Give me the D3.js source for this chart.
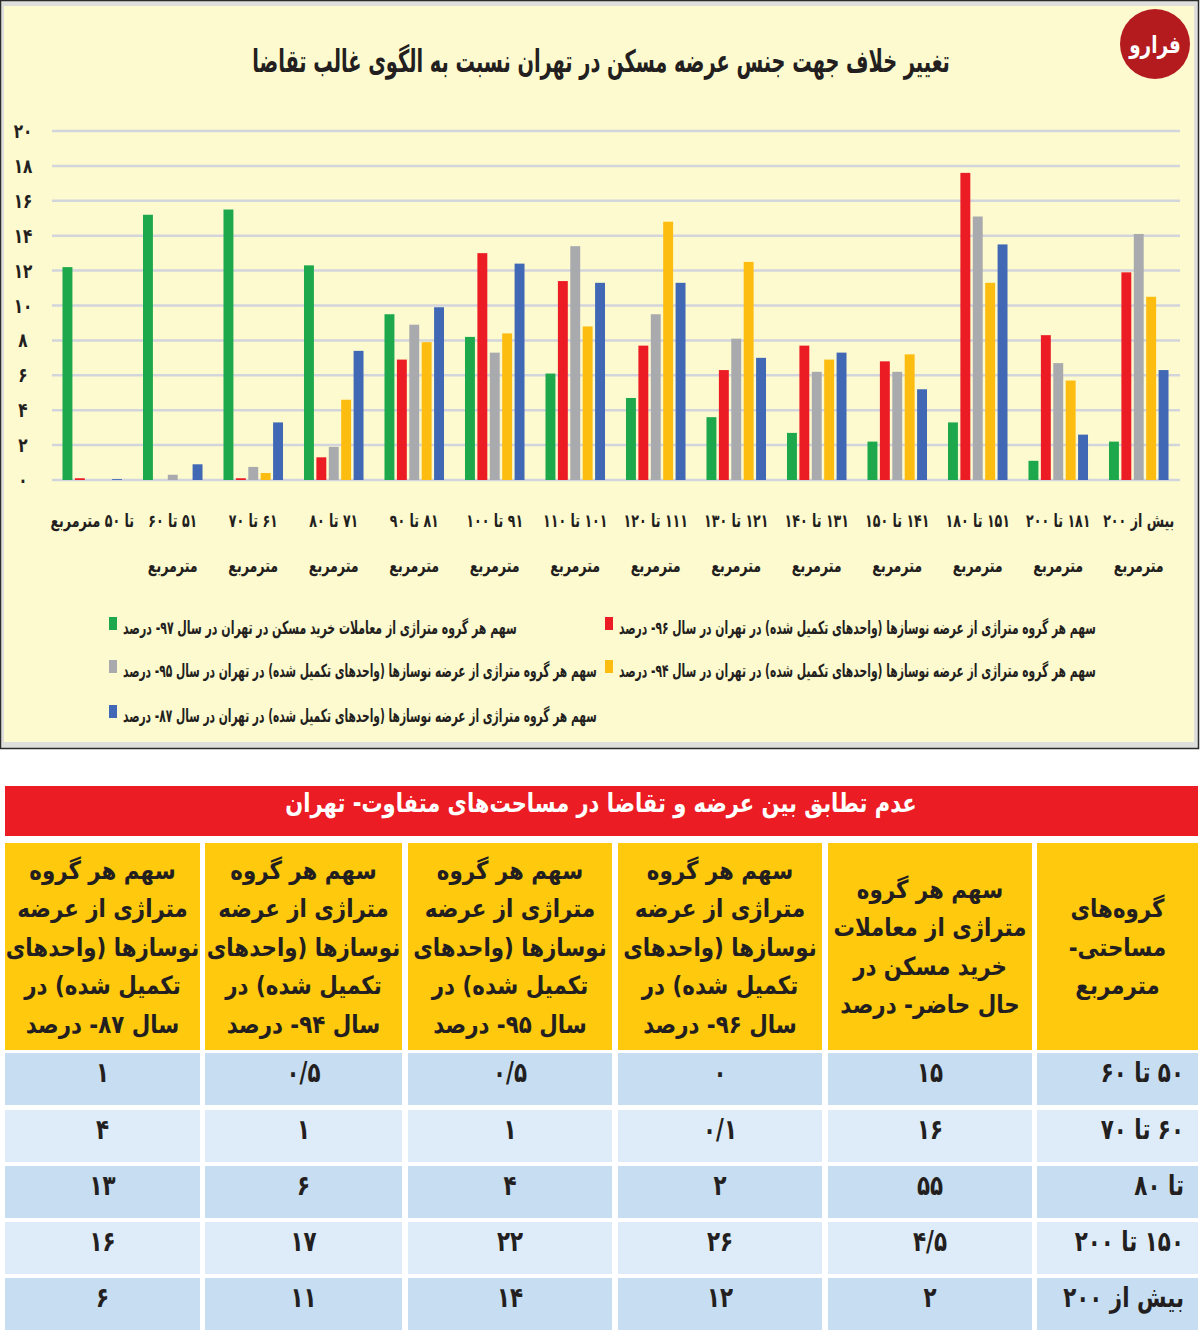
<!DOCTYPE html>
<html>
<head>
<meta charset="utf-8">
<script src="https://cdn.jsdelivr.net/npm/d3@7"></script>
<style>
  body { margin: 0; background: #fff; }
  svg text { font-family: "DejaVu Sans Condensed", "DejaVu Sans", sans-serif; font-weight: bold; }
</style>
</head>
<body>
<div class="canvas"></div>
<script>
/**
 * Data
 */
const title = "تغییر خلاف جهت جنس عرضه مسکن در تهران نسبت به الگوی غالب تقاضا"

// area groups, two label lines each
const categories = [
    ["تا ۵۰ مترمربع", ""],
    ["۵۱ تا ۶۰", "مترمربع"],
    ["۶۱ تا ۷۰", "مترمربع"],
    ["۷۱ تا ۸۰", "مترمربع"],
    ["۸۱ تا ۹۰", "مترمربع"],
    ["۹۱ تا ۱۰۰", "مترمربع"],
    ["۱۰۱ تا ۱۱۰", "مترمربع"],
    ["۱۱۱ تا ۱۲۰", "مترمربع"],
    ["۱۲۱ تا ۱۳۰", "مترمربع"],
    ["۱۳۱ تا ۱۴۰", "مترمربع"],
    ["۱۴۱ تا ۱۵۰", "مترمربع"],
    ["۱۵۱ تا ۱۸۰", "مترمربع"],
    ["۱۸۱ تا ۲۰۰", "مترمربع"],
    ["بیش از ۲۰۰", "مترمربع"]
]

const demand97 = [12.2, 15.2, 15.5, 12.3, 9.5, 8.2, 6.1, 4.7, 3.6, 2.7, 2.2, 3.3, 1.1, 2.2]
const supply96 = [0.1, 0, 0.1, 1.3, 6.9, 13.0, 11.4, 7.7, 6.3, 7.7, 6.8, 17.6, 8.3, 11.9]
const supply95 = [0, 0.3, 0.75, 1.9, 8.9, 7.3, 13.4, 9.5, 8.1, 6.2, 6.2, 15.1, 6.7, 14.1]
const supply94 = [0, 0, 0.4, 4.6, 7.9, 8.4, 8.8, 14.8, 12.5, 6.9, 7.2, 11.3, 5.7, 10.5]
const supply87 = [0.05, 0.9, 3.3, 7.4, 9.9, 12.4, 11.3, 11.3, 7.0, 7.3, 5.2, 13.5, 2.6, 6.3]

const yTicks = [0, 2, 4, 6, 8, 10, 12, 14, 16, 18, 20]

const seriesNames = [
    "سهم هر گروه متراژی از معاملات خرید مسکن در تهران در سال ۹۷- درصد",
    "سهم هر گروه متراژی از عرضه نوسازها (واحدهای تکمیل شده) در تهران در سال ۹۶- درصد",
    "سهم هر گروه متراژی از عرضه نوسازها (واحدهای تکمیل شده) در تهران در سال ۹۵- درصد",
    "سهم هر گروه متراژی از عرضه نوسازها (واحدهای تکمیل شده) در تهران در سال ۹۴- درصد",
    "سهم هر گروه متراژی از عرضه نوسازها (واحدهای تکمیل شده) در تهران در سال ۸۷- درصد"
]

// table
const tableTitle = "عدم تطابق بین عرضه و تقاضا در مساحت‌های متفاوت- تهران"
const tableHeaders = [
    ["گروه‌های", "مساحتی-", "مترمربع"],
    ["سهم هر گروه", "متراژی از معاملات", "خرید مسکن در", "حال حاضر- درصد"],
    ["سهم هر گروه", "متراژی از عرضه", "نوسازها (واحدهای", "تکمیل شده) در", "سال ۹۶- درصد"],
    ["سهم هر گروه", "متراژی از عرضه", "نوسازها (واحدهای", "تکمیل شده) در", "سال ۹۵- درصد"],
    ["سهم هر گروه", "متراژی از عرضه", "نوسازها (واحدهای", "تکمیل شده) در", "سال ۹۴- درصد"],
    ["سهم هر گروه", "متراژی از عرضه", "نوسازها (واحدهای", "تکمیل شده) در", "سال ۸۷- درصد"]
]
const tableRows = [
    ["۵۰ تا ۶۰", "۱۵", "۰", "۰/۵", "۰/۵", "۱"],
    ["۶۰ تا ۷۰", "۱۶", "۰/۱", "۱", "۱", "۴"],
    ["تا ۸۰", "۵۵", "۲", "۴", "۶", "۱۳"],
    ["۱۵۰ تا ۲۰۰", "۴/۵", "۲۶", "۲۲", "۱۷", "۱۶"],
    ["بیش از ۲۰۰", "۲", "۱۲", "۱۴", "۱۱", "۶"]
]

/**
 * Setup
 */
const fa = s => String(s).replace(/\d/g, d => "۰۱۲۳۴۵۶۷۸۹"[d])

const series = [
    { key: "d97", values: demand97, color: "#1DA84B" },
    { key: "s96", values: supply96, color: "#EC1C24" },
    { key: "s95", values: supply95, color: "#A9AAAE" },
    { key: "s94", values: supply94, color: "#FDBD10" },
    { key: "s87", values: supply87, color: "#4068B5" }
]
series.forEach((s, i) => s.name = seriesNames[i])

const svg = d3.select(".canvas")
    .append("svg")
    .attr("width", 1200)
    .attr("height", 1330)

// horizontal squeeze of a text (the reference font is narrow)
// done with a transform so the real box of the text stays right
const squeeze = (el, k) => {
    const tx = +el.getAttribute("x") || 0
    const ty = +el.getAttribute("y") || 0
    el.setAttribute("x", 0)
    el.setAttribute("y", 0)
    el.setAttribute("transform", `translate(${tx},${ty}) scale(${k},1)`)
}
const condense = (sel, k) => sel.each(function() { squeeze(this, k) })
const fit = (sel, w) => sel.each(function() {
    squeeze(this, w / this.getComputedTextLength())
})

/**
 * Chart panel
 */
svg.append("rect")
    .attr("x", 0.5).attr("y", 0.5)
    .attr("width", 1198).attr("height", 748)
    .attr("fill", "#DEDEDC")
    .attr("stroke", "#2b2b2b")
    .attr("stroke-width", 1.5)

svg.append("rect")
    .attr("x", 4).attr("y", 6)
    .attr("width", 1190).attr("height", 736)
    .attr("fill", "#FDFACF")

svg.append("text")
    .attr("x", 601).attr("y", 72)
    .attr("text-anchor", "middle")
    .attr("direction", "rtl")
    .attr("font-size", 31)
    .attr("fill", "#231F20")
    .text(title)
    .call(fit, 698)

// logo
const logo = svg.append("g").attr("transform", "translate(1155,44)")
logo.append("circle").attr("r", 35).attr("fill", "#B31B1F")
logo.append("text")
    .attr("y", 9)
    .attr("text-anchor", "middle")
    .attr("direction", "rtl")
    .attr("font-size", 24)
    .attr("fill", "#fff")
    .text("فرارو")
    .call(condense, 0.85)

/**
 * Scales
 */
const x0 = d3.scaleBand()
    .domain(d3.range(categories.length))
    .range([52, 1179])

const x1 = d3.scaleBand()
    .domain(series.map(s => s.key))
    .range([x0.bandwidth() / 2 - 31, x0.bandwidth() / 2 + 31])
    .paddingInner(0.2)
    .paddingOuter(0.1)

const y = d3.scaleLinear()
    .domain([0, 20])
    .range([480, 131])

// gridlines + y labels
svg.append("g")
    .selectAll("line")
    .data(yTicks)
    .enter().append("line")
        .attr("x1", 52).attr("x2", 1180)
        .attr("y1", d => y(d)).attr("y2", d => y(d))
        .attr("stroke", "#D3D5DC")
        .attr("stroke-width", 2.5)

svg.append("g")
    .selectAll("text")
    .data(yTicks)
    .enter().append("text")
        .attr("x", 23)
        .attr("y", d => y(d) + 7)
        .attr("text-anchor", "middle")
        .attr("font-size", 20)
        .attr("fill", "#231F20")
        .text(d => fa(d))
        .call(condense, 0.85)

// bars
const groups = svg.append("g")
    .selectAll("g")
    .data(categories.map((c, i) => i))
    .enter().append("g")
        .attr("transform", i => `translate(${x0(i)},0)`)

groups.selectAll("rect")
    .data(i => series.map(s => ({ key: s.key, color: s.color, value: s.values[i] })))
    .enter().append("rect")
        .attr("x", d => x1(d.key))
        .attr("width", x1.bandwidth())
        .attr("y", d => y(d.value))
        .attr("height", d => y(0) - y(d.value))
        .attr("fill", d => d.color)

// x labels
groups.each(function(i) {
    const g = d3.select(this)
    const cx = x0.bandwidth() / 2
    categories[i].forEach((line, k) => {
        if (!line) return
        g.append("text")
            .attr("x", cx)
            .attr("y", 527 + k * 45)
            .attr("text-anchor", "middle")
            .attr("direction", "rtl")
            .attr("font-size", 18)
            .attr("fill", "#231F20")
            .text(line)
            .call(condense, 0.78)
    })
})

/**
 * Legend
 */
const legendPos = [
    { x: 109, y: 628, w: 394 },
    { x: 605, y: 628, w: 477 },
    { x: 109, y: 671, w: 474 },
    { x: 605, y: 671, w: 477 },
    { x: 109, y: 716, w: 474 }
]

const legend = svg.append("g")
    .selectAll("g")
    .data(series)
    .enter().append("g")
        .attr("transform", (d, i) => `translate(${legendPos[i].x},${legendPos[i].y})`)

legend.append("rect")
    .attr("x", 0).attr("y", -11)
    .attr("width", 8).attr("height", 13)
    .attr("fill", d => d.color)

legend.append("text")
    .attr("x", 14)
    .attr("y", 6)
    .attr("direction", "rtl")
    .attr("text-anchor", "end")
    .attr("font-size", 18)
    .attr("fill", "#231F20")
    .text(d => d.name)
    .each(function(d, i) { fit(d3.select(this), legendPos[i].w) })

/**
 * Table
 */
svg.append("rect")
    .attr("x", 5).attr("y", 786)
    .attr("width", 1193).attr("height", 50)
    .attr("fill", "#EC1C24")

svg.append("text")
    .attr("x", 601).attr("y", 812)
    .attr("text-anchor", "middle")
    .attr("direction", "rtl")
    .attr("font-size", 26)
    .attr("fill", "#fff")
    .text(tableTitle)
    .call(condense, 0.9)

// columns right to left
const colX = [
    [1037, 1198], [828, 1032], [618, 822], [408, 612], [205, 402], [5, 200]
]
const headTop = 843, headBottom = 1050
const rowTops = [1053, 1110, 1166, 1222, 1278]
const rowH = 52
const rowFill = ["#C6DDF2", "#DEEBF8", "#C6DDF2", "#DEEBF8", "#C6DDF2"]

const head = svg.append("g")
    .selectAll("g")
    .data(tableHeaders)
    .enter().append("g")

head.append("rect")
    .attr("x", (d, i) => colX[i][0])
    .attr("y", headTop)
    .attr("width", (d, i) => colX[i][1] - colX[i][0])
    .attr("height", headBottom - headTop)
    .attr("fill", "#FFC90E")

head.each(function(lines, i) {
    const cx = (colX[i][0] + colX[i][1]) / 2
    const lh = 38.5
    const mid = (headTop + headBottom) / 2
    const y0 = mid - (lines.length - 1) * lh / 2
    lines.forEach((line, k) => {
        d3.select(this).append("text")
            .attr("x", cx)
            .attr("y", y0 + k * lh + 9)
            .attr("text-anchor", "middle")
            .attr("direction", "rtl")
            .attr("font-size", 25)
            .attr("fill", "#231F20")
            .text(line)
            .call(condense, 0.95)
    })
})

const rows = svg.append("g")
    .selectAll("g")
    .data(tableRows)
    .enter().append("g")

rows.each(function(row, r) {
    const g = d3.select(this)
    row.forEach((cell, i) => {
        g.append("rect")
            .attr("x", colX[i][0])
            .attr("y", rowTops[r])
            .attr("width", colX[i][1] - colX[i][0])
            .attr("height", rowH)
            .attr("fill", rowFill[r])
        g.append("text")
            .attr("x", i === 0 ? colX[i][1] - 14 : (colX[i][0] + colX[i][1]) / 2)
            .attr("y", rowTops[r] + 29)
            .attr("text-anchor", i === 0 ? "start" : "middle")
            .attr("direction", "rtl")
            .attr("font-size", 28)
            .attr("fill", "#231F20")
            .text(cell)
            .call(condense, 0.85)
    })
})
</script>
</body>
</html>
